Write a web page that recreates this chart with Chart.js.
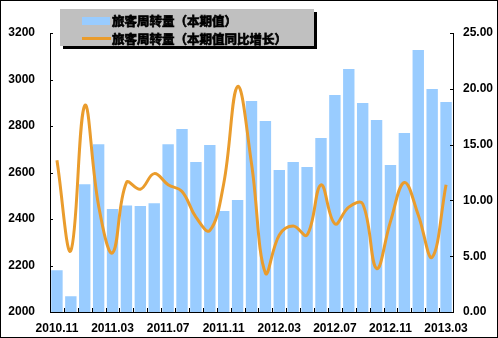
<!DOCTYPE html>
<html>
<head>
<meta charset="utf-8">
<script src="https://cdn.jsdelivr.net/npm/chart.js@4.4.1/dist/chart.umd.min.js"></script>
<style>
  html, body { margin: 0; padding: 0; background: #fff; }
  #wrap { width: 498px; height: 338px; }
</style>
</head>
<body>
<div id="wrap"><canvas id="c" width="498" height="338"></canvas></div>
<script>
const months = [
  "2010.11", "2010.12", "2011.01", "2011.02", "2011.03", "2011.04", "2011.05", "2011.06",
  "2011.07", "2011.08", "2011.09", "2011.10", "2011.11", "2011.12", "2012.01", "2012.02",
  "2012.03", "2012.04", "2012.05", "2012.06", "2012.07", "2012.08", "2012.09", "2012.10",
  "2012.11", "2012.12", "2013.01", "2013.02", "2013.03"
];
// 旅客周转量（本期值）
const volume = [
  2180, 2068, 2550, 2722, 2443, 2458, 2456, 2468,
  2722, 2787, 2645, 2718, 2434, 2482, 2907, 2821,
  2611, 2645, 2624, 2748, 2933, 3045, 2899, 2826,
  2632, 2770, 3127, 2959, 2903
];
// 旅客周转量（本期值同比增长）
const growth = [
  13.6, 5.5, 18.5, 9.5, 5.3, 11.6, 11.0, 12.4,
  11.4, 10.8, 8.5, 7.3, 11.5, 20.2, 13.3, 3.5,
  6.9, 7.7, 6.9, 11.4, 7.9, 9.4, 9.7, 3.9,
  8.1, 11.6, 8.7, 4.9, 11.4
];
const legendLabels = ["旅客周转量（本期值）", "旅客周转量（本期值同比增长）"];

const barColor = "#99CCFF";
const lineColor = "#EA9C2C";
const tickFont = { family: "Liberation Sans, Arial", size: 12, weight: "bold" };

// short tick marks pointing into the plot, like the spreadsheet original
const innerTicks = {
  id: "innerTicks",
  afterDraw(chart) {
    const ctx = chart.ctx;
    const area = chart.chartArea;
    const sx = chart.scales.x, sy = chart.scales.y, sy1 = chart.scales.y1;
    ctx.save();
    ctx.strokeStyle = "#000";
    ctx.lineWidth = 1;
    ctx.beginPath();
    sy.ticks.forEach((t) => {
      const py = Math.round(sy.getPixelForValue(t.value)) + 0.5;
      ctx.moveTo(area.left, py);
      ctx.lineTo(area.left + 3, py);
    });
    sy1.ticks.forEach((t) => {
      const py = Math.round(sy1.getPixelForValue(t.value)) + 0.5;
      ctx.moveTo(area.right, py);
      ctx.lineTo(area.right - 3, py);
    });
    const step = (area.right - area.left) / months.length;
    for (let i = 1; i < months.length; i++) {
      const px = Math.round(sx.getPixelForValue(i) - step / 2) + 0.5;
      ctx.moveTo(px, area.bottom);
      ctx.lineTo(px, area.bottom - 4);
    }
    ctx.stroke();
    ctx.restore();
  }
};

// gray legend box with a dark drop shadow, plus the outer frame
const boxLegend = {
  id: "boxLegend",
  afterDraw(chart) {
    const ctx = chart.ctx;
    ctx.save();
    ctx.fillStyle = "#000";
    ctx.fillRect(63, 12, 254, 37);
    ctx.fillStyle = "#C0C0C0";
    ctx.fillRect(60, 9, 254, 37);

    ctx.fillStyle = barColor;
    ctx.fillRect(82, 17, 28, 8);
    ctx.strokeStyle = lineColor;
    ctx.lineWidth = 3;
    ctx.beginPath();
    ctx.moveTo(82, 38.5);
    ctx.lineTo(111, 38.5);
    ctx.stroke();

    ctx.fillStyle = "#000";
    ctx.strokeStyle = "#000";
    ctx.lineWidth = 0.7;
    ctx.font = "bold 12.5px 'Noto Sans CJK SC'";
    ctx.textBaseline = "middle";
    ctx.fillText(legendLabels[0], 112, 21);
    ctx.strokeText(legendLabels[0], 112, 21);
    ctx.fillText(legendLabels[1], 112, 39);
    ctx.strokeText(legendLabels[1], 112, 39);

    ctx.lineWidth = 1;
    ctx.strokeRect(0.5, 0.5, 497, 337);
    ctx.restore();
  }
};

new Chart(document.getElementById("c"), {
  type: "bar",
  data: {
    labels: months,
    datasets: [
      {
        type: "line",
        label: legendLabels[1],
        data: growth,
        yAxisID: "y1",
        borderColor: lineColor,
        borderWidth: 3,
        pointRadius: 0,
        tension: 0.4,
        fill: false,
        order: 1,
      },
      {
        type: "bar",
        label: legendLabels[0],
        data: volume,
        yAxisID: "y",
        backgroundColor: barColor,
        barPercentage: 0.82,
        categoryPercentage: 1,
        order: 2,
      },
    ],
  },
  options: {
    responsive: false,
    animation: false,
    layout: { padding: { top: 33, left: 0, right: 0, bottom: 0 } },
    plugins: { legend: { display: false }, tooltip: { enabled: false } },
    scales: {
      x: {
        grid: { display: false, drawTicks: false },
        border: { color: "#000" },
        ticks: {
          autoSkip: false,
          maxRotation: 0,
          color: "#000",
          font: tickFont,
          padding: 9,
          callback: function (value, index) {
            return index % 4 === 0 ? months[index] : "";
          },
        },
        afterFit: function (scale) { scale.height = 26; },
      },
      y: {
        position: "left",
        min: 2000,
        max: 3200,
        ticks: {
          stepSize: 200,
          color: "#000",
          font: tickFont,
          padding: 15,
          callback: function (value) { return String(value); },
        },
        grid: { display: false, drawTicks: false },
        border: { color: "#000" },
        afterFit: function (scale) { scale.width = 50; },
      },
      y1: {
        position: "right",
        min: 0,
        max: 25,
        ticks: {
          stepSize: 5,
          color: "#000",
          font: tickFont,
          padding: 10,
          callback: function (value) { return Number(value).toFixed(2); },
        },
        grid: { display: false, drawTicks: false },
        border: { color: "#000" },
        afterFit: function (scale) { scale.width = 45; },
      },
    },
  },
  plugins: [innerTicks, boxLegend],
});
</script>
</body>
</html>
